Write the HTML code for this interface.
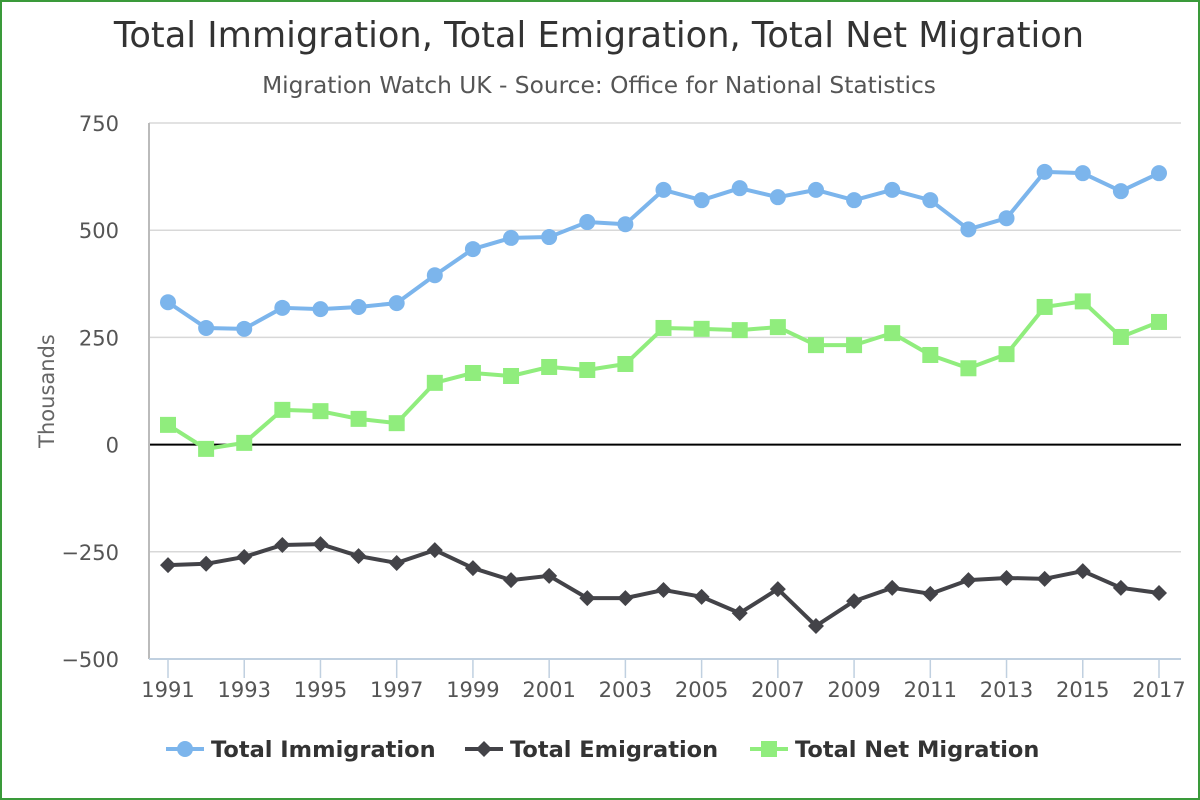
<!DOCTYPE html>
<html><head><meta charset="utf-8"><style>
html,body{margin:0;padding:0;background:#fff;}
#wrap{position:relative;width:1200px;height:800px;overflow:hidden;}
svg{position:absolute;left:0;top:0;}
text{font-family:"DejaVu Sans","Liberation Sans",sans-serif;}
</style></head><body>
<div id="wrap">
<svg id="chart" width="1200" height="800">
<rect x="1" y="1" width="1198" height="798" fill="none" stroke="#3a9a3a" stroke-width="2"/>
<text x="599" y="47" text-anchor="middle" font-size="35.2" fill="#333">Total Immigration, Total Emigration, Total Net Migration</text>
<text x="599" y="93" text-anchor="middle" font-size="23.3" fill="#555">Migration Watch UK - Source: Office for National Statistics</text>
<text transform="translate(54,391) rotate(-90)" text-anchor="middle" font-size="21" fill="#666">Thousands</text>
</svg>
</div>
<script>
const years=[1991,1992,1993,1994,1995,1996,1997,1998,1999,2000,2001,2002,2003,2004,2005,2006,2007,2008,2009,2010,2011,2012,2013,2014,2015,2016,2017];
const immigration=[332,272,270,319,316,321,330,395,456,482,484,519,514,594,570,598,577,594,570,594,570,502,528,636,633,591,633];
const emigration=[-281,-278,-262,-234,-232,-260,-276,-246,-288,-316,-306,-358,-358,-339,-355,-393,-337,-423,-365,-334,-348,-316,-311,-313,-295,-334,-346];
const netMigration=[46,-10,4,81,78,60,50,144,167,160,181,174,188,272,270,267,274,232,232,260,209,178,211,321,334,251,286];
const yTicks=[750,500,250,0,-250,-500];
const yTickLabels=["750","500","250","0","\u2212250","\u2212500"];
const xTickLabels=["1991","1993","1995","1997","1999","2001","2003","2005","2007","2009","2011","2013","2015","2017"];

const svg=document.getElementById('chart');
const NS='http://www.w3.org/2000/svg';
const L=149,R=1181,T=123,B=659,yMin=-500,yMax=750;
const xS=v=>168+(v-1991)*(1159-168)/26;
const yS=v=>B-(v-yMin)*(B-T)/(yMax-yMin);
function mk(t,a){const e=document.createElementNS(NS,t);for(const k in a)e.setAttribute(k,a[k]);svg.appendChild(e);return e;}

yTicks.forEach((v,i)=>{
  const g=mk('line',{x1:L,x2:R,y1:yS(v),y2:yS(v),stroke:v===0?'#000':'#d8d8d8','stroke-width':v===0?2:1.5});
  
  
  const t=mk('text',{x:119,y:yS(v)+8,'text-anchor':'end','font-size':21,fill:'#555'});
  t.textContent=yTickLabels[i];
  
  
});
const ax=mk('line',{x1:L,x2:L,y1:T,y2:B,stroke:'#bbb','stroke-width':2});


const xa=mk('line',{x1:L,x2:R,y1:B,y2:B,stroke:'#c0d0e0','stroke-width':2});


xTickLabels.forEach(s=>{
  const x=xS(+s);
  const tk=mk('line',{x1:x,x2:x,y1:B,y2:B+19,stroke:'#c0d0e0','stroke-width':1.5});
  
  
  const t=mk('text',{x:x,y:B+38,'text-anchor':'middle','font-size':21,fill:'#555'});
  t.textContent=s;
  
  
});

function marker(shape,x,y,c){
  let e;
  if(shape==='circle')e=mk('circle',{cx:x,cy:y,r:8,fill:c});
  else if(shape==='square')e=mk('rect',{x:x-8,y:y-8,width:16,height:16,fill:c});
  else e=mk('path',{d:`M${x},${y-8}L${x+8},${y}L${x},${y+8}L${x-8},${y}Z`,fill:c});
  return e;
}
function series(vals,color,shape,name){
  const p=mk('polyline',{points:vals.map((v,i)=>xS(years[i])+','+yS(v)).join(' '),fill:'none',stroke:color,'stroke-width':4,'stroke-linejoin':'round'});
  
  
  vals.forEach((v,i)=>{
    const m=marker(shape,xS(years[i]),yS(v),color);
    
    
  });
}
series(immigration,'#7cb5ec','circle','immigration');
series(emigration,'#434348','diamond','emigration');
series(netMigration,'#90ed7d','square','net-migration');

const legend=[['Total Immigration','#7cb5ec','circle',166],['Total Emigration','#434348','diamond',465],['Total Net Migration','#90ed7d','square',750]];
legend.forEach(([lab,c,sh,x])=>{
  const l=mk('line',{x1:x,x2:x+38,y1:749,y2:749,stroke:c,'stroke-width':4});
  
  
  const m=marker(sh,x+19,749,c);
  
  
  const t=mk('text',{x:x+45,y:757,'font-size':22.5,'font-weight':'bold',fill:'#333'});
  t.textContent=lab;
  
  
});
</script>
</body></html>
